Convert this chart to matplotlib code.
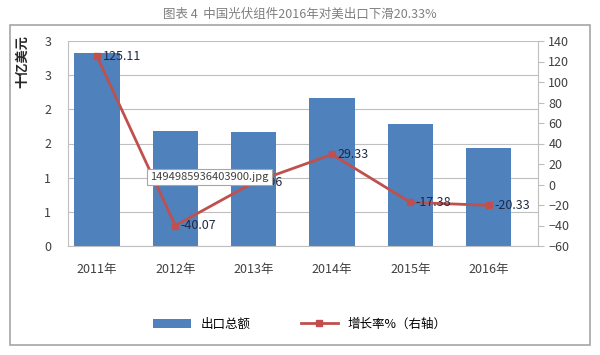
import matplotlib.pyplot as plt
from matplotlib.patches import Rectangle

plt.rcParams['font.family'] = ['Noto Sans CJK SC', 'DejaVu Sans']

years = ['2011年', '2012年', '2013年', '2014年', '2015年', '2016年']
export_total = [2.82, 1.68, 1.67, 2.17, 1.79, 1.43]
growth = [125.11, -40.07, 1.96, 29.33, -17.38, -20.33]
growth_labels = ['125.11', '-40.07', '1.96', '29.33', '-17.38', '-20.33']

bar_color = '#4F81BD'
line_color = '#C0504D'

fig = plt.figure(figsize=(6, 3.55), dpi=100)
fig.patch.set_facecolor('white')

# outer frame
fig.patches.append(Rectangle((10/600, 1-345/355), 580/600, 320/355, transform=fig.transFigure,
                             fill=False, edgecolor='#A6A6A6', linewidth=1.2))
fig.text(0.5, 1-14/355, '图表 4  中国光伏组件2016年对美出口下滑20.33%', ha='center', va='center',
         fontsize=9, color='#7F7F7F')

ax = fig.add_axes([68/600, 1-246/355, 470/600, 205/355])
x = range(len(years))
ax.bar(x, export_total, width=0.58, color=bar_color, zorder=2, label='出口总额')
ax.set_ylim(0, 3.0)
ax.set_yticks([0, 0.5, 1.0, 1.5, 2.0, 2.5, 3.0])
ax.set_yticklabels(['0', '1', '1', '2', '2', '3', '3'])
ax.set_xlim(-0.37, 5.63)
ax.set_xticks(list(x))
ax.set_xticklabels(years)
ax.grid(axis='y', color='#BFBFBF', linewidth=0.8, zorder=0)
for s in ['top', 'right']:
    ax.spines[s].set_visible(False)
ax.spines['left'].set_color('#BFBFBF')
ax.spines['bottom'].set_color('#BFBFBF')
ax.tick_params(axis='y', length=0, labelsize=9, colors='#404040', pad=12)
ax.tick_params(axis='x', length=0, labelsize=9, colors='#404040', pad=12)
fig.text(22/600, 1-62/355, '十亿美元', rotation=90, ha='center', va='center', fontsize=9.5,
         fontweight='bold', color='#262626')

ax2 = ax.twinx()
ax2.plot(list(x), growth, color=line_color, marker='s', markersize=5, linewidth=2,
         zorder=3, label='增长率%（右轴）')
ax2.set_ylim(-60, 140)
ax2.set_yticks(range(-60, 141, 20))
for s in ['top', 'left', 'bottom']:
    ax2.spines[s].set_visible(False)
ax2.spines['right'].set_color('#BFBFBF')
ax2.tick_params(axis='y', direction='out', length=4, color='#BFBFBF', labelsize=9,
                colors='#404040')
ax2.tick_params(axis='y', color='#BFBFBF')
for i, v in enumerate(growth):
    ax2.annotate(growth_labels[i], (i, v), xytext=(4, 0), textcoords='offset points',
                 ha='left', va='center', fontsize=9, color='#1F2A44', zorder=4)

# stray image-caption box from the source page
fig.text(150/600, 1-177/355, '1494985936403900.jpg', ha='left', va='center', fontsize=8,
         color='#404040', bbox=dict(boxstyle='square,pad=0.3', facecolor='white',
                                    edgecolor='#A6A6A6', linewidth=0.8), zorder=10)

h1, l1 = ax.get_legend_handles_labels()
h2, l2 = ax2.get_legend_handles_labels()
fig.legend(h1 + h2, l1 + l2, loc='center', bbox_to_anchor=(0.5, 1-324/355), ncol=2,
           frameon=False, fontsize=9, handlelength=3, columnspacing=4)

fig.savefig('out.png', dpi=100)
